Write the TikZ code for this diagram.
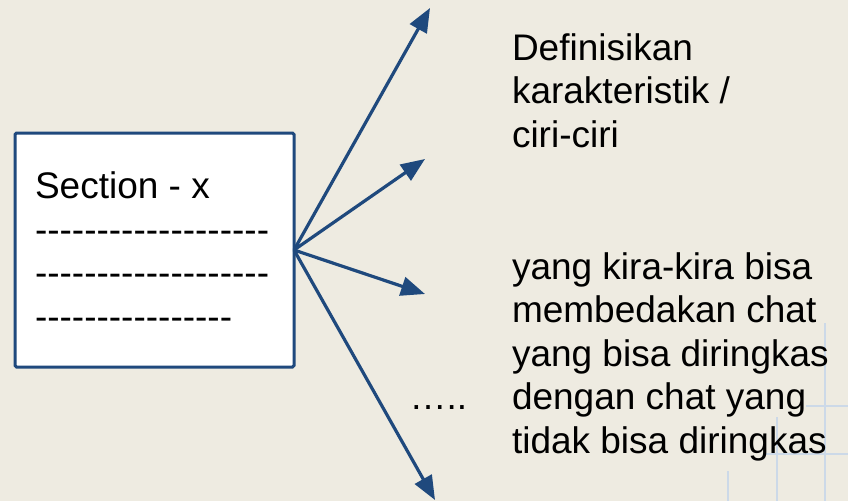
\documentclass[tikz,border=0pt]{standalone}
\usepackage{fontspec}
\setmainfont{Liberation Sans}[Ligatures=TeXOff]
\usetikzlibrary{arrows.meta}
\definecolor{bg}{RGB}{238,235,225}
\definecolor{navy}{RGB}{31,73,125}
\definecolor{gridc}{RGB}{204,217,232}
\begin{document}
\begin{tikzpicture}[x=1pt,y=-1pt,
  every node/.style={inner sep=0pt,outer sep=0pt,font=\fontsize{37}{43.5}\selectfont},
  txt/.style={anchor=base west,align=left},
  gridline/.style={draw=gridc,line width=1.5pt},
  arr/.style={draw=navy,line width=3.2pt,-{Triangle[length=24pt,width=19pt]}},
  secbox/.style={draw=navy,line width=3pt,fill=white,rounded corners=1.5pt,minimum width=279pt,minimum height=234pt}]
\useasboundingbox (0,0) rectangle (848,501);
\fill[bg] (0,0) rectangle (848,501);
% faint grid
\draw[gridline] (825,323) -- (825,501);
\draw[gridline] (806,406) -- (848,406);
\draw[gridline] (777,417) -- (777,501);
\draw[gridline] (766,454) -- (848,454);
\draw[gridline] (728,471) -- (728,501);
% box
\node[secbox] (box) at (154.5,250) {};
\node[txt] (sec) at (35,198) {Section - x};
\node[txt] (d1) at (35,242) {-------------------};
\node[txt] (d2) at (35,285.5) {-------------------};
\node[txt] (d3) at (35,329) {----------------};
% arrows
\coordinate (o) at (box.east);
\coordinate (t1) at (430,8);
\coordinate (t2) at (425,159);
\coordinate (t3) at (425,294);
\coordinate (t4) at (435,500);
\draw[arr] (o) -- (t1);
\draw[arr] (o) -- (t2);
\draw[arr] (o) -- (t3);
\draw[arr] (o) -- (t4);
% texts
\node[txt] (def) at (512,60) {\begin{tabular}[t]{@{}l@{}}Definisikan\\karakteristik /\\ciri-ciri\end{tabular}};
\node[txt] (desc) at (512,279) {\begin{tabular}[t]{@{}l@{}}yang kira-kira bisa\\membedakan chat\\yang bisa diringkas\\dengan chat yang\\tidak bisa diringkas\end{tabular}};
\node[txt] (dots) at (409.5,409.5) {…..};
\end{tikzpicture}
\end{document}
